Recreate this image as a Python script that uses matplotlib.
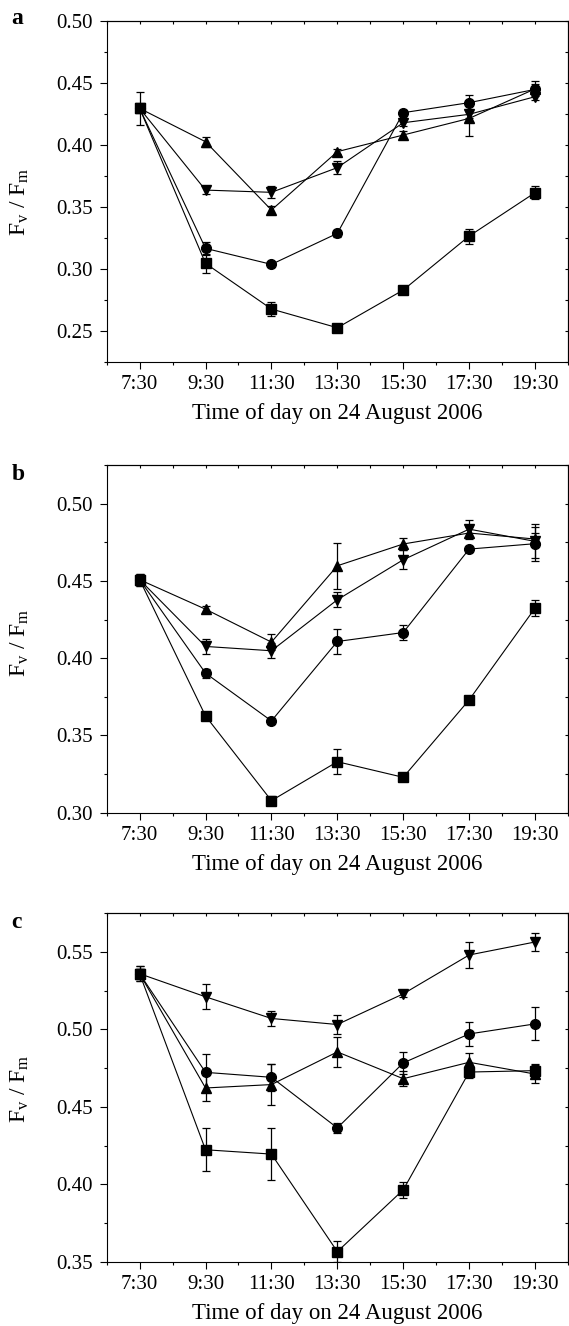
import numpy as np
import matplotlib
matplotlib.use("Agg")
import matplotlib.pyplot as plt
from matplotlib.ticker import MultipleLocator

plt.rcParams['font.family'] = ['Liberation Serif', 'DejaVu Serif']
plt.rcParams['mathtext.fontset'] = 'custom'
plt.rcParams['mathtext.rm'] = 'Liberation Serif'
plt.rcParams['mathtext.it'] = 'Liberation Serif:italic'

times = ['7:30', '9:30', '11:30', '13:30', '15:30', '17:30', '19:30']

# panel a
a_sq = [0.4293, 0.3043, 0.2675, 0.2524, 0.2828, 0.3263, 0.3613]
a_sq_err = [0.0135, 0.0075, 0.006, 0.003, 0.003, 0.006, 0.005]
a_ci = [0.4293, 0.3164, 0.3035, 0.3285, 0.4258, 0.4339, 0.4446]
a_ci_err = [0.003, 0.005, 0.002, 0.003, 0.002, 0.006, 0.004]
a_up = [0.4293, 0.4024, 0.3473, 0.3944, 0.4078, 0.4212, 0.4450]
a_up_err = [0.003, 0.004, 0.003, 0.002, 0.003, 0.014, 0.006]
a_dn = [0.4293, 0.3634, 0.3616, 0.3815, 0.4177, 0.4245, 0.4387]
a_dn_err = [0.003, 0.003, 0.0047, 0.005, 0.003, 0.003, 0.003]

# panel b
b_sq = [0.4508, 0.3626, 0.3078, 0.3330, 0.3229, 0.3730, 0.4324]
b_sq_err = [0.004, 0.0015, 0.003, 0.008, 0.002, 0.002, 0.0052]
b_ci = [0.4508, 0.3903, 0.3594, 0.4108, 0.4166, 0.4706, 0.4741]
b_ci_err = [0.004, 0.003, 0.002, 0.008, 0.005, 0.002, 0.011]
b_up = [0.4508, 0.4317, 0.4104, 0.4598, 0.4739, 0.4810, 0.4771]
b_up_err = [0.003, 0.002, 0.005, 0.015, 0.004, 0.004, 0.004]
b_dn = [0.4508, 0.4076, 0.4048, 0.4378, 0.4637, 0.4835, 0.4756]
b_dn_err = [0.003, 0.005, 0.005, 0.005, 0.006, 0.006, 0.011]

# panel c
c_sq = [0.5360, 0.4223, 0.4195, 0.3565, 0.3964, 0.4725, 0.4734]
c_sq_err = [0.005, 0.014, 0.017, 0.007, 0.005, 0.004, 0.004]
c_ci = [0.5360, 0.4723, 0.4691, 0.4364, 0.4784, 0.4971, 0.5036]
c_ci_err = [0.005, 0.012, 0.0087, 0.003, 0.007, 0.008, 0.0106]
c_up = [0.5360, 0.4622, 0.4644, 0.4855, 0.4682, 0.4788, 0.4712]
c_up_err = [0.003, 0.0086, 0.0134, 0.0095, 0.005, 0.006, 0.006]
c_dn = [0.5360, 0.5211, 0.5071, 0.5032, 0.5230, 0.5481, 0.5565]
c_dn_err = [0.003, 0.008, 0.005, 0.006, 0.002, 0.0085, 0.0057]

panels = [
    ('a', (0.225, 0.50), [0.25, 0.30, 0.35, 0.40, 0.45, 0.50],
     [(a_sq, a_sq_err), (a_ci, a_ci_err), (a_up, a_up_err), (a_dn, a_dn_err)]),
    ('b', (0.30, 0.525), [0.30, 0.35, 0.40, 0.45, 0.50],
     [(b_sq, b_sq_err), (b_ci, b_ci_err), (b_up, b_up_err), (b_dn, b_dn_err)]),
    ('c', (0.35, 0.575), [0.35, 0.40, 0.45, 0.50, 0.55],
     [(c_sq, c_sq_err), (c_ci, c_ci_err), (c_up, c_up_err), (c_dn, c_dn_err)]),
]
markers = ['s', 'o', '^', 'v']

# axes boxes in figure fractions
boxes = [
    [0.1875, 0.7272, 0.8107, 0.2572],
    [0.1875, 0.3871, 0.8107, 0.2622],
    [0.1875, 0.0485, 0.8107, 0.2627],
]
ylab_y = [0.47, 0.49, 0.497]
letter_y = [0.9819, 0.638, 0.3002]

fig = plt.figure(figsize=(5.69, 13.26), dpi=100)
x = np.arange(len(times))

for k, (letter, ylim, yt, series) in enumerate(panels):
    ax = fig.add_axes(boxes[k])
    for (vals, errs), m in zip(series, markers):
        ax.errorbar(x, vals, yerr=errs, color='black', marker=m, markersize=7,
                    linewidth=0.8, elinewidth=0.9, capsize=3, capthick=0.9)
    ax.set_xlim(-0.5, 6.5)
    ax.set_ylim(*ylim)
    ax.set_xticks(x)
    ax.set_xticklabels(times)
    ax.set_yticks(yt)
    ax.set_yticklabels(['%.2f' % v for v in yt])
    ax.xaxis.set_minor_locator(MultipleLocator(0.5))
    ax.yaxis.set_minor_locator(MultipleLocator(0.025))
    ax.tick_params(which='major', direction='out', length=4.8, width=0.8,
                   labelsize=15, pad=5)
    ax.tick_params(which='minor', direction='out', length=2.4, width=0.8)
    for sp in ax.spines.values():
        sp.set_linewidth(0.8)

    # short inward ticks on the top and right edges
    top = ax.secondary_xaxis('top')
    top.set_xticks(x)
    top.xaxis.set_minor_locator(MultipleLocator(0.5))
    top.tick_params(which='both', direction='in', length=2.2, width=0.8,
                    labeltop=False)
    top.spines['top'].set_linewidth(0.8)
    right = ax.secondary_yaxis('right')
    right.set_yticks(yt)
    right.yaxis.set_minor_locator(MultipleLocator(0.025))
    right.tick_params(which='both', direction='in', length=2.2, width=0.8,
                      labelright=False)
    right.spines['right'].set_linewidth(0.8)

    ax.set_xlabel('Time of day on 24 August 2006', fontsize=16.5, labelpad=6)
    ax.set_ylabel(r'F$_\mathrm{v}$ / F$_\mathrm{m}$', fontsize=17)
    ax.yaxis.set_label_coords(-0.165, ylab_y[k])
    fig.text(0.02, letter_y[k], letter, fontsize=17,
             fontweight='bold', va='baseline', ha='left')

fig.savefig('out.png', dpi=100)
